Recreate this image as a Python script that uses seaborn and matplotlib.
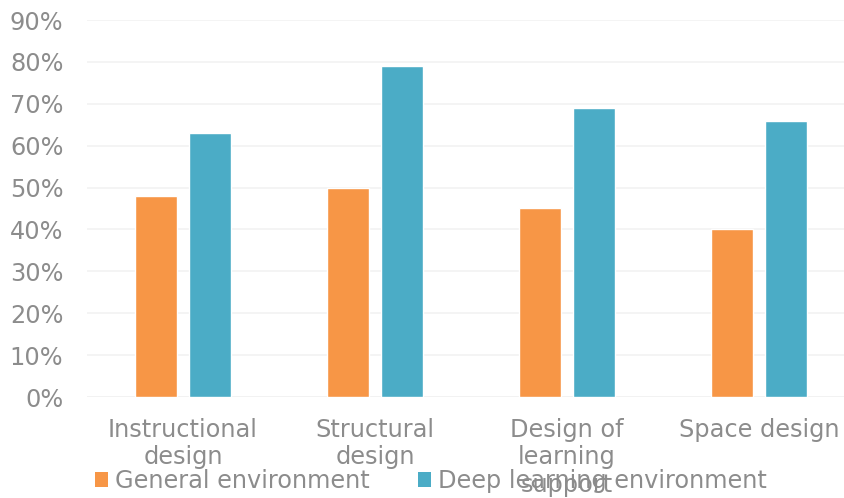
import matplotlib
matplotlib.use("Agg")
import matplotlib.pyplot as plt
import seaborn as sns
import pandas as pd
from matplotlib.patches import Patch
from matplotlib.ticker import PercentFormatter

categories = ["Instructional\ndesign", "Structural\ndesign",
              "Design of\nlearning\nsupport", "Space design"]
general_env = [0.48, 0.50, 0.45, 0.40]
deep_env = [0.63, 0.79, 0.69, 0.66]
series = ["General environment", "Deep learning environment"]
colors = ["#F79646", "#4BACC6"]
yticks = [0.0, 0.1, 0.2, 0.3, 0.4, 0.5, 0.6, 0.7, 0.8, 0.9]

df = pd.DataFrame({
    "category": categories * 2,
    "value": general_env + deep_env,
    "series": [series[0]] * 4 + [series[1]] * 4,
})

sns.set_style("white")
plt.rcParams["font.family"] = ["DejaVu Sans"]
text_color = "#8c8c8c"

fig = plt.figure(figsize=(8.44, 4.98), dpi=100)
ax = fig.add_axes([87 / 844, 101 / 498, 768 / 844, 377 / 498])

sns.barplot(data=df, x="category", y="value", hue="series",
            palette=colors, width=0.572, gap=0.234, ax=ax,
            saturation=1, legend=False)

ax.set_ylim(0, 0.9)
ax.set_yticks(yticks)
ax.yaxis.set_major_formatter(PercentFormatter(1.0, decimals=0))
ax.grid(axis="y", color="#f2f2f2", linewidth=1.2)
ax.set_axisbelow(True)
for s in ax.spines.values():
    s.set_visible(False)
ax.axhline(0, color="#f0f0f0", linewidth=1.2, zorder=0)
ax.set_xlabel("")
ax.set_ylabel("")
ax.tick_params(axis="y", length=0, pad=17, labelsize=17.3, labelcolor=text_color)
ax.tick_params(axis="x", length=0, pad=15, labelsize=17.3, labelcolor=text_color)
for lab in ax.get_xticklabels():
    lab.set_linespacing(1.18)

handles = [Patch(facecolor=c, edgecolor="none") for c in colors]
fig.legend(handles, series, loc="center", bbox_to_anchor=(431 / 844, 17 / 498),
           ncol=2, frameon=False, fontsize=17.3, labelcolor=text_color,
           handlelength=0.55, handleheight=0.55, handletextpad=0.3,
           columnspacing=2.0, borderpad=0)

fig.savefig("out.png", dpi=100)
plt.close(fig)
